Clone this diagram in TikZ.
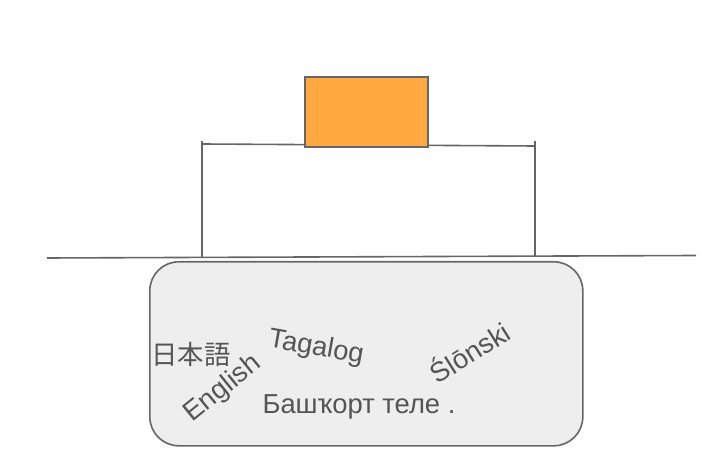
\documentclass[tikz,border=0pt]{standalone}
\usepackage{fontspec}
\setmainfont{Liberation Sans}
\newfontfamily\cjkfont{Noto Sans CJK JP}
\definecolor{linegray}{HTML}{666666}
\definecolor{textgray}{HTML}{555555}
\definecolor{boxfill}{HTML}{EEEEEE}
\definecolor{orangefill}{HTML}{FFA940}
\tikzset{
  ln/.style={draw=linegray, line width=1.6bp},
  lang/.style={text=textgray, font=\fontsize{27.5}{32}\selectfont, inner sep=0pt},
}
\begin{document}
\begin{tikzpicture}[x=1bp,y=-1bp]
\useasboundingbox (0,0) rectangle (728,455);
% base box
\node[ln, fill=boxfill, rounded corners=29bp, minimum width=433bp, minimum height=184bp, inner sep=0pt, anchor=north west] (base) at (149,261) {};
% ground line
\coordinate (gl) at (47,258);
\coordinate (gr) at (696,255.5);
\draw[ln] (gl) -- (gr);
% bracket
\coordinate (lt) at (202,141);
\coordinate (lb) at (202,257);
\coordinate (rt) at (535,141);
\coordinate (rb) at (535,256);
\coordinate (ltop) at (202,144);
\coordinate (rtop) at (535,146);
\draw[ln] (lt) -- (lb);
\draw[ln] (rt) -- (rb);
\draw[ln] (ltop) -- (rtop);
% orange block
\node[ln, fill=orangefill, minimum width=123bp, minimum height=70bp, inner sep=0pt, anchor=north west] (block) at (304,76) {};
% language labels
\node[lang, font=\cjkfont\fontsize{26.5}{30}\selectfont] (ja) at (191,354) {日本語};
\node[lang, rotate=-10] (tl) at (316,348) {Tagalog};
\node[lang, rotate=39] (en) at (223,389) {English};
\node[lang, rotate=32] (sl) at (469,351) {Ślōnski};
\node[lang, anchor=base] (ba) at (359,413) {Башҡорт теле .};
\end{tikzpicture}
\end{document}
